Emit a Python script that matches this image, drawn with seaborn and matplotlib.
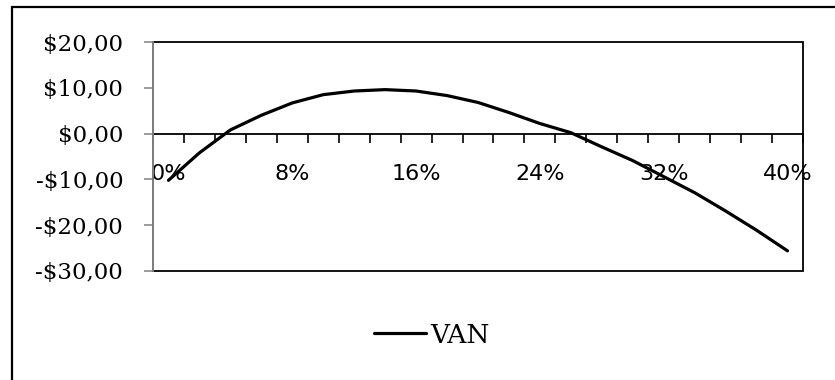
import numpy as np
import pandas as pd
import seaborn as sns
import matplotlib.pyplot as plt
from matplotlib.patches import Rectangle

# Tasa de descuento (%) y VAN
tasas = [0, 2, 4, 6, 8, 10, 12, 14, 16, 18, 20, 22, 24, 26, 28, 30, 32, 34, 36, 38, 40]
van = [-10.2, -4.2, 0.8, 4.0, 6.7, 8.5, 9.3, 9.6, 9.3, 8.3, 6.8, 4.6, 2.2, 0.2,
       -2.9, -5.9, -9.4, -12.9, -16.9, -21.1, -25.6]
y_ticks = [-30, -20, -10, 0, 10, 20]
y_labels = ['-$30,00', '-$20,00', '-$10,00', '$0,00', '$10,00', '$20,00']
x_label_pos = [0, 8, 16, 24, 32, 40]

df = pd.DataFrame({'tasa': tasas, 'VAN': van})

sns.set_theme(style='white')
plt.rcParams['font.family'] = ['DejaVu Serif']
plt.rcParams['text.color'] = 'black'
plt.rcParams['xtick.labelcolor'] = 'black'
plt.rcParams['ytick.labelcolor'] = 'black'

fig = plt.figure(figsize=(8.35, 3.8), dpi=100)
ax = fig.add_axes([153/835, 1 - 271/380, 650/835, 229/380])

sns.lineplot(data=df, x='tasa', y='VAN', color='black', linewidth=2.3, ax=ax, label='VAN', legend=False)

ax.set_xlim(-1, 41)
ax.set_ylim(-30, 20)
ax.set_xlabel('')
ax.set_ylabel('')

# y axis (grey, serif labels)
ax.set_yticks(y_ticks)
ax.set_yticklabels(y_labels, fontsize=16.5, family='DejaVu Serif', color='black')
ax.tick_params(axis='y', direction='out', length=6.5, width=1.2, color='#8a8a8a', pad=15, left=True)
ax.spines['left'].set_color('#8a8a8a')
ax.spines['left'].set_linewidth(1.3)
ax.spines['left'].set_zorder(3)

# category axis crossing at zero
ax.spines['bottom'].set_position(('data', 0))
ax.spines['bottom'].set_color('black')
ax.spines['bottom'].set_linewidth(1.3)
ax.spines['top'].set_visible(False)
ax.spines['right'].set_visible(False)
ax.set_xticks(np.arange(-1, 42, 2))
ax.set_xticklabels([])
ax.tick_params(axis='x', which='major', direction='out', length=6.5, width=1.2, color='black', bottom=True)
ax.set_xticks(x_label_pos, minor=True)
ax.set_xticklabels([f'{p}%' for p in x_label_pos], minor=True, fontsize=16, family='DejaVu Sans', color='black')
ax.tick_params(axis='x', which='minor', length=0, pad=22, bottom=True)

# plot area frame
ax.add_patch(Rectangle((0, 0), 1, 1, transform=ax.transAxes, fill=False,
                       edgecolor='black', linewidth=1.3, clip_on=False, zorder=1))

# legend
fig.legend(handles=ax.get_lines()[:1], labels=['VAN'], loc='center',
           bbox_to_anchor=(0.517, 0.118), frameon=False,
           handlelength=2.0, handletextpad=0.15, prop={'family': 'DejaVu Serif', 'size': 19},
           labelcolor='black')

# outer chart border
fig.add_artist(Rectangle((12/835, -0.1), 1.2, 1.1 - 7/380, transform=fig.transFigure,
                         fill=False, edgecolor='black', linewidth=1.6))

fig.savefig('out.png', dpi=100)
